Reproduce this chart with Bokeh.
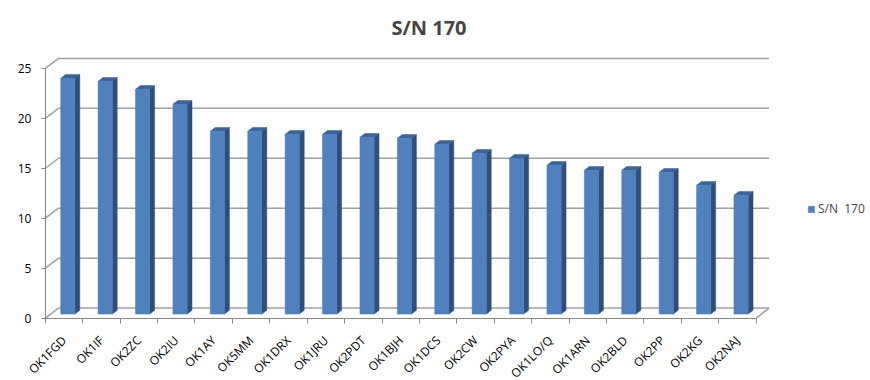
import math
from bokeh.plotting import figure
from bokeh.models import FixedTicker, Legend, LegendItem, Range1d, ColumnDataSource
from bokeh.embed import file_html
from bokeh.resources import INLINE

# ---- data ----
calls = ["OK1FGD", "OK1IF", "OK2ZC", "OK2IU", "OK1AY", "OK5MM", "OK1DRX", "OK1JRU",
         "OK2PDT", "OK1BJH", "OK1DCS", "OK2CW", "OK2PYA", "OK1LO/Q", "OK1ARN",
         "OK2BLD", "OK2PP", "OK2KG", "OK2NAJ"]
sn170 = [23.6, 23.3, 22.5, 21.0, 18.3, 18.3, 18.0, 18.0, 17.7, 17.6, 17.0, 16.1,
         15.6, 14.9, 14.4, 14.4, 14.2, 12.9, 11.9]
y_ticks = [0, 5, 10, 15, 20, 25]
series_name = "S/N  170"
title_text = "S/N  170"

# ---- 3D look constants (data units) ----
WALL_DX, WALL_DY = 0.35, 1.0      # depth of the back wall
BAR_XOFF, BAR_YOFF = 0.10, 0.40   # bar front face offset into depth
BAR_W = 0.38
SIDE_DX, SIDE_DY = 0.13, 0.38

FRONT = "#4F81BD"
SIDE = "#2E4F7A"
TOP = "#3B6396"
GRID = "#A0A0A0"
AXIS = "#868686"
FONT = "Open Sans"

n = len(calls)
centers = [i + 1 for i in range(n)]
bounds_ticks = [i + 0.5 for i in range(n + 1)]

p = figure(width=870, height=380, output_backend="svg", toolbar_location=None,
           x_range=Range1d(-0.70, 22.56), y_range=Range1d(-6.25, 26.69),
           min_border_left=0, min_border_right=0, min_border_bottom=0, min_border_top=48)
p.outline_line_color = None
p.xgrid.visible = False
p.ygrid.visible = False

p.title.text = title_text
p.title.text_font = FONT
p.title.text_font_size = "20px"
p.title.text_font_style = "bold"
p.title.align = "left"
p.title.offset = 391
p.title.standoff = 22

# back wall + side wall + floor lines
top_x = 0.5 + n
bx0 = [0.5 + WALL_DX for _ in y_ticks]
bx1 = [top_x + WALL_DX for _ in y_ticks]
by = [v + WALL_DY for v in y_ticks]
p.segment(x0=bx0, y0=by, x1=bx1, y1=by, line_color=GRID, line_width=1.5)
p.segment(x0=[0.5] * len(y_ticks), y0=y_ticks, x1=bx0, y1=by, line_color=GRID, line_width=1.5)
p.segment(x0=[top_x], y0=[0], x1=[top_x + WALL_DX], y1=[WALL_DY], line_color=GRID, line_width=1.5)

# bars
fx = [c + BAR_XOFF for c in centers]
bottoms = [BAR_YOFF] * n
tops = [v + BAR_YOFF for v in sn170]
xl = [x - BAR_W / 2 for x in fx]
xr = [x + BAR_W / 2 for x in fx]

side_xs = [[r, r + SIDE_DX, r + SIDE_DX, r] for r in xr]
side_ys = [[b, b + SIDE_DY, t + SIDE_DY, t] for b, t in zip(bottoms, tops)]
top_xs = [[l, l + SIDE_DX, r + SIDE_DX, r] for l, r in zip(xl, xr)]
top_ys = [[t, t + SIDE_DY, t + SIDE_DY, t] for t in tops]
p.patches(side_xs, side_ys, fill_color=SIDE, line_color=SIDE, line_width=0.5)
p.patches(top_xs, top_ys, fill_color=TOP, line_color=TOP, line_width=0.5)
src = ColumnDataSource(dict(x=fx, bottom=bottoms, top=tops))
front = p.vbar(x="x", bottom="bottom", top="top", width=BAR_W, source=src,
               fill_color=FRONT, line_color="#4A7AB5", line_width=0.5)

# axes
p.yaxis.fixed_location = 0.5
p.yaxis.ticker = FixedTicker(ticks=y_ticks)
p.yaxis.bounds = (0, 25)
p.yaxis.axis_line_color = AXIS
p.yaxis.major_tick_line_color = AXIS
p.yaxis.major_tick_out = 4
p.yaxis.major_tick_in = 0
p.yaxis.minor_tick_line_color = None
p.yaxis.major_label_standoff = 10
p.yaxis.major_label_text_font = FONT
p.yaxis.major_label_text_font_size = "12px"
p.yaxis.major_label_text_color = "#000000"

p.xaxis.fixed_location = 0
p.xaxis.ticker = FixedTicker(ticks=centers, minor_ticks=bounds_ticks)
p.xaxis.major_label_overrides = {c: name for c, name in zip(centers, calls)}
p.xaxis.bounds = (0.5, 0.5 + n)
p.xaxis.axis_line_color = AXIS
p.xaxis.major_tick_line_color = None
p.xaxis.minor_tick_line_color = AXIS
p.xaxis.minor_tick_out = 5
p.xaxis.minor_tick_in = 0
p.xaxis.major_label_orientation = math.pi / 4
p.xaxis.major_label_standoff = 14
p.xaxis.major_label_text_font = FONT
p.xaxis.major_label_text_font_size = "12px"
p.xaxis.major_label_text_color = "#000000"

legend = Legend(items=[LegendItem(label=series_name, renderers=[front])],
                location=(807, 163), padding=0, margin=0, spacing=0,
                border_line_color=None, background_fill_alpha=0,
                glyph_width=8, glyph_height=8, label_standoff=3,
                label_text_font=FONT, label_text_font_size="12px", label_height=14)
p.add_layout(legend)

open("out.html", "w").write(file_html(p, INLINE))
